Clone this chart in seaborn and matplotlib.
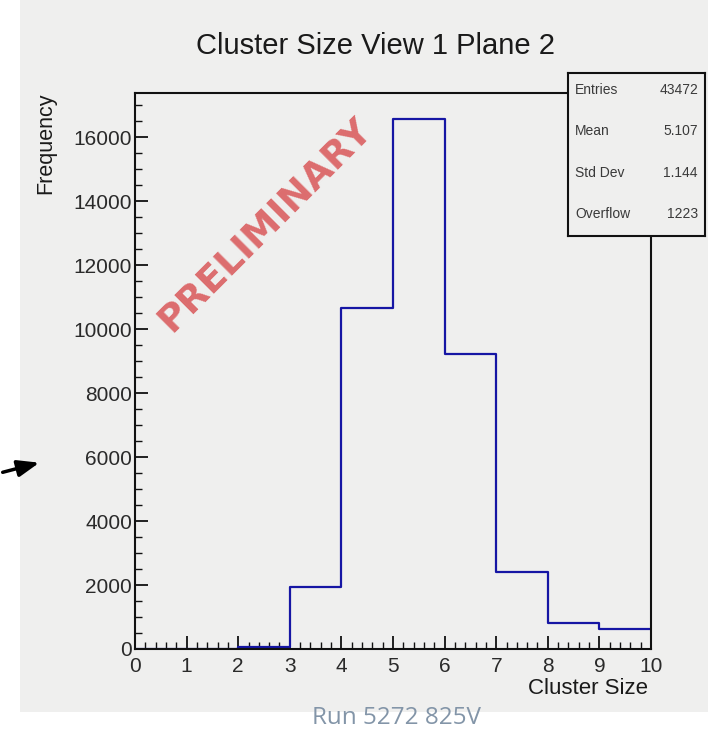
import matplotlib
matplotlib.use("Agg")
import matplotlib.pyplot as plt
from matplotlib.patches import Rectangle, FancyArrowPatch
from matplotlib.ticker import MultipleLocator
import seaborn as sns

# Histogram content (cluster size bins 0..10)
bin_edges = [0, 1, 2, 3, 4, 5, 6, 7, 8, 9, 10]
bin_counts = [0, 0, 50, 1950, 10650, 16550, 9220, 2420, 820, 630]

# Statistics box entries
stat_names = ["Entries", "Mean", "Std Dev", "Overflow"]
stat_values = ["43472", "5.107", "1.144", "1223"]

title = "Cluster Size View 1 Plane 2"
x_label = "Cluster Size"
y_label = "Frequency"
caption = "Run 5272 825V"
watermark = "PRELIMINARY"

sns.set_theme(style="ticks")
plt.rcParams["font.family"] = ["Liberation Sans", "DejaVu Sans"]

W, H = 717, 739
fig = plt.figure(figsize=(W / 100, H / 100), dpi=100, facecolor="white")

# paper-like panel behind the plot
paper = "#efefee"
fig.patches.append(Rectangle((20 / W, 1 - 712 / H), (708 - 20) / W, 712 / H,
                             transform=fig.transFigure, facecolor=paper,
                             edgecolor="none", zorder=-10))

ax = fig.add_axes([135 / W, 1 - 649 / H, (651 - 135) / W, (649 - 93) / H])
ax.set_facecolor(paper)

centers = [(a + b) / 2 for a, b in zip(bin_edges[:-1], bin_edges[1:])]
sns.histplot(x=centers, weights=bin_counts, bins=bin_edges, element="step",
             fill=False, color="#1616a4", linewidth=1.6, ax=ax)

ax.set_xlim(0, 10)
ax.set_ylim(0, max(bin_counts) * 1.05)
ax.xaxis.set_major_locator(MultipleLocator(1))
ax.xaxis.set_minor_locator(MultipleLocator(0.2))
ax.yaxis.set_major_locator(MultipleLocator(2000))
ax.yaxis.set_minor_locator(MultipleLocator(500))
ax.tick_params(which="major", direction="in", length=9.5, width=1.3,
               color="#111111", labelsize=15, labelcolor="#2a2a2a")
ax.tick_params(which="minor", direction="in", length=5, width=1.0,
               color="#111111")
ax.tick_params(axis="x", pad=6)
ax.tick_params(axis="y", pad=2)
for s in ax.spines.values():
    s.set_linewidth(1.5)
    s.set_color("#111111")

ax.set_xlabel("")
ax.set_ylabel("")
fig.text(648 / W, 1 - 689 / H, x_label, ha="right", va="center",
         fontsize=16, color="#1a1a1a")
fig.text(46 / W, 1 - 93 / H, y_label, ha="center", va="top", rotation=90,
         fontsize=15.5, color="#1a1a1a")
fig.text(375 / W, 1 - 46 / H, title, ha="center", va="center",
         fontsize=21, color="#1a1a1a")

# watermark
fig.text(265 / W, 1 - 225 / H, watermark,
         ha="center", va="center", rotation=45, fontsize=27,
         fontweight="bold", color="#dc6c6e", family=["DejaVu Sans"])

# statistics box
bx0, bx1 = 568 / W, 705 / W
by0, by1 = 1 - 236 / H, 1 - 73 / H
box = fig.add_axes([bx0, by0, bx1 - bx0, by1 - by0])
box.set_facecolor(paper)
box.set_xticks([])
box.set_yticks([])
for s in box.spines.values():
    s.set_linewidth(1.5)
    s.set_color("#111111")
row_y = [90, 131, 173, 214]
for name, val, yy in zip(stat_names, stat_values, row_y):
    fig.text(575 / W, 1 - yy / H, name, ha="left", va="center",
             fontsize=10, color="#3a3a3a")
    fig.text(698 / W, 1 - yy / H, val, ha="right", va="center",
             fontsize=10, color="#3a3a3a")

# caption
fig.text(396 / W, 1 - 718 / H, caption, ha="center", va="center",
         fontsize=17.5, color="#8395a8", family=["Open Sans", "DejaVu Sans"])

# pointer arrow on the left edge
fig.patches.append(FancyArrowPatch(
    (0 / W, 1 - 473 / H), (42 / W, 1 - 462 / H), transform=fig.transFigure,
    arrowstyle="-|>,head_length=13,head_width=5", linewidth=2.5,
    color="black", zorder=5))

fig.savefig("out.png", dpi=100, facecolor="white")
